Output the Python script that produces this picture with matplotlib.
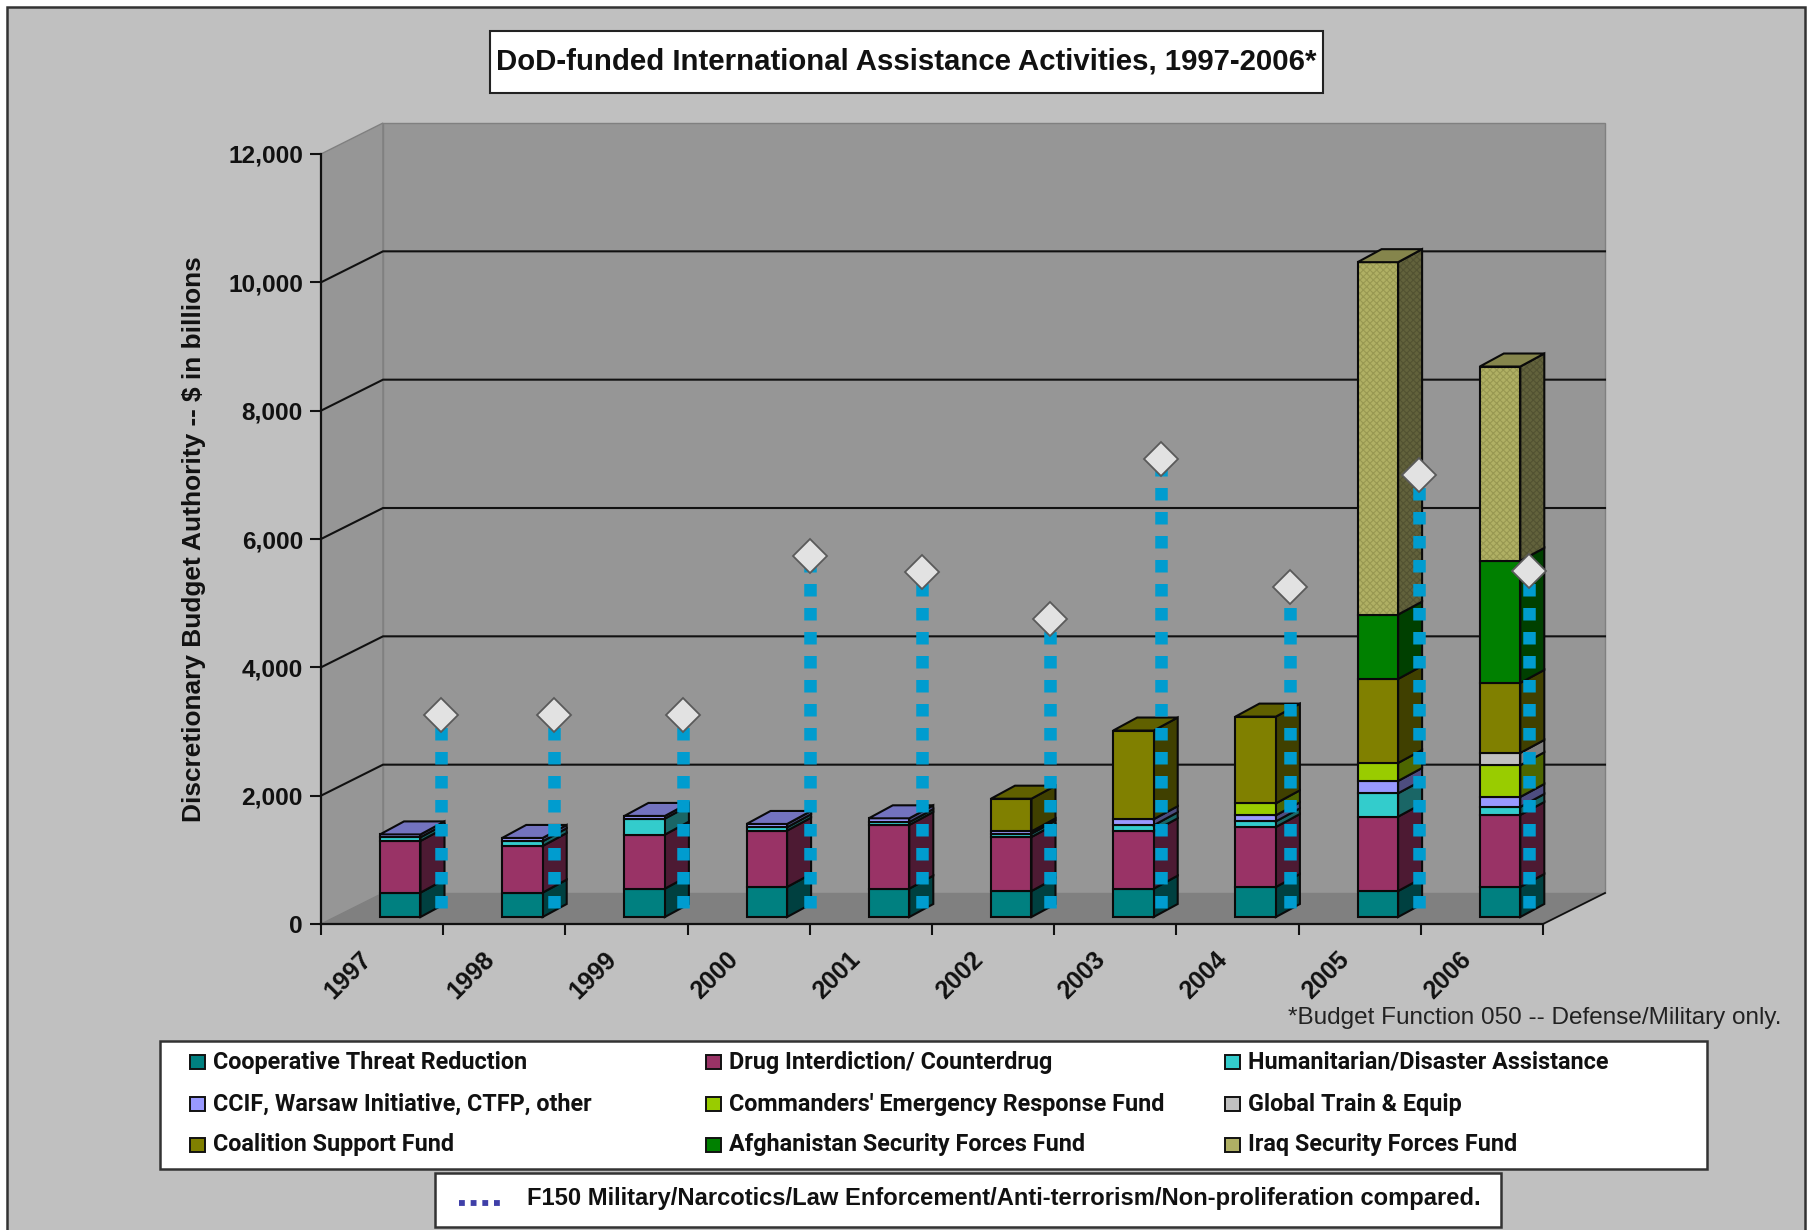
import matplotlib
matplotlib.use("Agg")
import matplotlib.pyplot as plt
from matplotlib.patches import Polygon, Rectangle
from matplotlib.ticker import StrMethodFormatter
from matplotlib.transforms import ScaledTranslation

# ---- data ($ values per fiscal year, stacked from the bottom up) ----
years = ["1997", "1998", "1999", "2000", "2001", "2002", "2003", "2004", "2005", "2006"]
threat_reduction = [380, 380, 442, 468, 442, 405, 442, 468, 405, 468]
drug_interdiction = [805, 727, 842, 878, 992, 842, 894, 935, 1159, 1122]
humanitarian = [57, 73, 249, 52, 45, 52, 94, 88, 364, 125]
ccif_other = [45, 52, 42, 52, 59, 36, 94, 94, 192, 156]
commanders_fund = [0, 0, 0, 0, 0, 0, 0, 187, 281, 494]
global_train = [0, 0, 0, 0, 0, 0, 0, 0, 0, 192]
coalition_support = [0, 0, 0, 0, 0, 509, 1382, 1351, 1309, 1091]
afghan_forces = [0, 0, 0, 0, 0, 0, 0, 0, 1003, 1902]
iraq_forces = [0, 0, 0, 0, 0, 0, 0, 0, 5492, 3029]
f150_compared = [3250, 3250, 3250, 5740, 5490, 4750, 7250, 5250, 7000, 5500]
f150_floor = 250

series = [
    ("Cooperative Threat Reduction", threat_reduction, "#008080", "#004040", "#006060"),
    ("Drug Interdiction/ Counterdrug", drug_interdiction, "#993366", "#4d1a33", "#732650"),
    ("Humanitarian/Disaster Assistance", humanitarian, "#33cccc", "#1a6666", "#269999"),
    ("CCIF, Warsaw Initiative, CTFP, other", ccif_other, "#9999ff", "#4d4d80", "#7373bf"),
    ("Commanders' Emergency Response Fund", commanders_fund, "#99cc00", "#4d6600", "#739900"),
    ("Global Train & Equip", global_train, "#c0c0c0", "#808080", "#909090"),
    ("Coalition Support Fund", coalition_support, "#808000", "#404000", "#606000"),
    ("Afghanistan Security Forces Fund", afghan_forces, "#008000", "#004000", "#006000"),
    ("Iraq Security Forces Fund", iraq_forces, "#b0b064", "#62623c", "#85854c"),
]

# ---- layout, in pixels of the 1815x1230 canvas ----
W, H = 1815, 1230
PLOT_L, PLOT_R, PLOT_T, PLOT_B = 321, 1543, 154, 924
PX_X = 10 / (PLOT_R - PLOT_L)
PX_Y = 12000 / (PLOT_B - PLOT_T)
WALL_DX, WALL_DY = 62 * PX_X, 31 * PX_Y
BAR_DX, BAR_DY = 24 * PX_X, 13 * PX_Y
BAR_RISE = 7 * PX_Y
BAR_START, BAR_WIDTH = 59 * PX_X, 40.5 * PX_X
# the drop lines were placed on a coarse screen grid, so each sits a little differently in its slot
LINE_SHIFT = [120, 111, 118, 122, 112, 118, 107, 114, 120, 108]

plt.rcParams["hatch.linewidth"] = 0.8

BOLD = {"family": ["Liberation Sans"], "weight": "bold", "color": "#111111"}
NARROW = {"family": ["Roboto", "Liberation Sans"], "weight": "bold", "color": "#111111"}

fig = plt.figure(figsize=(W / 100, H / 100), dpi=100, facecolor="white")

# furniture layer: page frame, title box, footnote and legends, in canvas pixels
page = fig.add_axes([0, 0, 1, 1], zorder=0)
page.set_xlim(0, W)
page.set_ylim(H, 0)
page.axis("off")
page.add_patch(Rectangle((7, 7), 1798, 1240, fc="#c0c0c0", ec="#333333", lw=1.8))
page.add_patch(Rectangle((490, 31), 833, 61.5, fc="white", ec="#222222", lw=1.5))
page.text(906.5, 61, "DoD-funded International Assistance Activities, 1997-2006*",
          ha="center", va="center", fontsize=21.2, **BOLD)
page.text(1782, 1018, "*Budget Function 050 -- Defense/Military only.", ha="right", va="center",
          fontsize=17.5, family="Liberation Sans", color="#222222")

page.add_patch(Rectangle((160, 1041), 1547, 128, fc="white", ec="#333333", lw=1.8))
col_x = [190, 706, 1225]
row_y = [1062, 1104, 1145]
for k, (label, _, face, _, _) in enumerate(series):
    cx, ry = col_x[k % 3], row_y[k // 3]
    page.add_patch(Rectangle((cx, ry - 7), 15, 14, fc=face, ec="#111111", lw=1.4))
    page.text(cx + 23, ry, label, ha="left", va="center", fontsize=16.8, **NARROW)

page.add_patch(Rectangle((435, 1173), 1066, 54, fc="white", ec="#333333", lw=1.8))
page.plot([459, 503], [1203, 1203], color="#3f3fa8", lw=4.2, ls=(0, (1, 1)), dash_capstyle="butt")
page.text(527, 1199, "F150 Military/Narcotics/Law Enforcement/Anti-terrorism/Non-proliferation compared.",
          ha="left", va="center", fontsize=17.1, **BOLD)

# plot layer: the front plane of the oblique box holds the value scale
ax = fig.add_axes([PLOT_L / W, 1 - PLOT_B / H, (PLOT_R - PLOT_L) / W, (PLOT_B - PLOT_T) / H], zorder=1)
ax.patch.set_alpha(0)
ax.set_xlim(0, 10)
ax.set_ylim(0, 12000)
for side in ("top", "right"):
    ax.spines[side].set_visible(False)
for side in ("left", "bottom"):
    ax.spines[side].set_linewidth(1.6)
    ax.spines[side].set_color("#111111")
    ax.spines[side].set_capstyle("projecting")

# walls and floor
wall_kw = dict(clip_on=False, zorder=0.2)
ax.add_patch(Polygon([(0, 0), (0, 12000), (WALL_DX, 12000 + WALL_DY), (WALL_DX, WALL_DY)],
                     fc="#969696", ec="#808080", lw=1.0, **wall_kw))
ax.add_patch(Polygon([(WALL_DX, WALL_DY), (WALL_DX, 12000 + WALL_DY), (10 + WALL_DX, 12000 + WALL_DY), (10 + WALL_DX, WALL_DY)],
                     fc="#969696", ec="#808080", lw=1.0, **wall_kw))
ax.add_patch(Polygon([(0, 0), (WALL_DX, WALL_DY), (10 + WALL_DX, WALL_DY), (10, 0)],
                     fc="#808080", ec="none", **wall_kw))

# gridlines run along the side wall, then across the back wall
for level in range(2000, 12000, 2000):
    ax.plot([0, WALL_DX, 10 + WALL_DX], [level, level + WALL_DY, level + WALL_DY],
            color="#111111", lw=1.5, clip_on=False, zorder=0.5, solid_joinstyle="miter")
ax.plot([10, 10 + WALL_DX], [0, WALL_DY], color="#111111", lw=1.3, clip_on=False, zorder=0.5)

# stacked bars with oblique side and top faces
edge = dict(edgecolor="#0a0a0a", linewidth=1.5, clip_on=False, zorder=3)
for i in range(len(years)):
    x0 = i + BAR_START
    x1 = x0 + BAR_WIDTH
    base = BAR_RISE
    top_color = None
    for label, values, face, side_face, top_face in series:
        v = values[i]
        if not v:
            continue
        side_pts = [(x1, base), (x1 + BAR_DX, base + BAR_DY), (x1 + BAR_DX, base + v + BAR_DY), (x1, base + v)]
        if values is iraq_forces:
            # the Iraq fund is a dithered fill: a fine darker weave beneath the outline
            ax.add_patch(Polygon(side_pts, fc=side_face, ec="#525232", lw=0, hatch="xxxxx",
                                 clip_on=False, zorder=3))
            ax.add_patch(Polygon(side_pts, fill=False, **edge))
            ax.bar(x0, v, BAR_WIDTH, bottom=base, align="edge", color=face, edgecolor="#989852",
                   linewidth=0, hatch="xxxxx", clip_on=False, zorder=3)
            ax.bar(x0, v, BAR_WIDTH, bottom=base, align="edge", fill=False, **edge)
        else:
            ax.add_patch(Polygon(side_pts, fc=side_face, **edge))
            ax.bar(x0, v, BAR_WIDTH, bottom=base, align="edge", color=face, **edge)
        base += v
        top_color = top_face
    ax.add_patch(Polygon([(x0, base), (x1, base), (x1 + BAR_DX, base + BAR_DY), (x0 + BAR_DX, base + BAR_DY)],
                         fc=top_color, **edge))

# F150 comparison: heavy dotted drop line under each diamond
for i, value in enumerate(f150_compared):
    xp = i + LINE_SHIFT[i] * PX_X
    ax.plot([xp, xp], [f150_floor, value], color="#009ccf", lw=9.0, ls=(0, (1, 0.92)),
            dash_capstyle="butt", clip_on=False, zorder=4)
    ax.plot([xp], [value], marker="D", ms=17, mfc="#e2e2e2", mec="#5a5a5a", mew=1.3,
            clip_on=False, zorder=5)

# axes
ax.set_yticks(range(0, 12001, 2000))
ax.yaxis.set_major_formatter(StrMethodFormatter("{x:,.0f}"))
ax.tick_params(axis="y", length=8, width=1.5, color="#111111", pad=5)
ax.set_xticks(range(0, 11))
ax.set_xticklabels([])
ax.tick_params(axis="x", which="major", length=8, width=1.5, color="#111111")
ax.set_xticks([i + 0.5 for i in range(len(years))], labels=years, minor=True)
ax.tick_params(axis="x", which="minor", length=0, pad=23)
nudge = ScaledTranslation(-14 / 100, 0, fig.dpi_scale_trans)
for t in ax.get_xticklabels(minor=True):
    t.set(rotation=45, ha="right", va="center", rotation_mode="anchor", fontsize=18, **BOLD)
    t.set_transform(t.get_transform() + nudge)
for t in ax.get_yticklabels():
    t.set(fontsize=17.6, **BOLD)
ax.set_ylabel("Discretionary Budget Authority -- $ in billions", fontsize=18.9, **BOLD)
ax.yaxis.set_label_coords((206 - PLOT_L) / (PLOT_R - PLOT_L), 0.5)

fig.savefig("out.png", dpi=100, facecolor="white")
